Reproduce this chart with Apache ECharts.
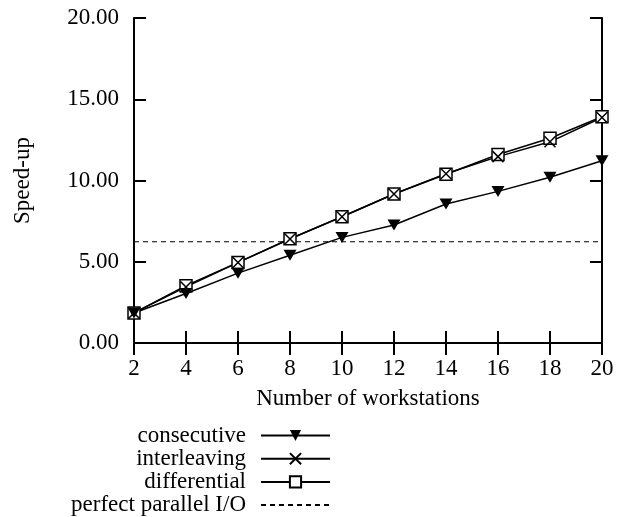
<!DOCTYPE html>
<html>
<head>
<meta charset="utf-8">
<script src="https://cdn.jsdelivr.net/npm/echarts@6/dist/echarts.min.js"></script>
<style>
html,body{margin:0;padding:0;background:#fff;}
#chart{width:627px;height:517px;}
</style>
</head>
<body>
<div id="chart"></div>
<script>
var workstations = [2, 4, 6, 8, 10, 12, 14, 16, 18, 20];
var consecutive = [1.85, 3.05, 4.3, 5.4, 6.5, 7.26, 8.55, 9.33, 10.2, 11.22];
var interleaving = [1.85, 3.45, 4.95, 6.4, 7.77, 9.17, 10.42, 11.47, 12.38, 13.88];
var differential = [1.85, 3.53, 4.96, 6.42, 7.77, 9.17, 10.38, 11.6, 12.6, 13.92];
var perfectParallel = [6.23, 6.23, 6.23, 6.23, 6.23, 6.23, 6.23, 6.23, 6.23, 6.23];
var yTickLabels = ['0.00', '5.00', '10.00', '15.00', '20.00'];
var xTickLabels = ['2', '4', '6', '8', '10', '12', '14', '16', '18', '20'];

function pairs(vals) {
  return workstations.map(function (x, i) { return [x, vals[i]]; });
}

var FONT = "'Liberation Serif', 'Times New Roman', serif";
var chart = echarts.init(document.getElementById('chart'), null, {renderer: 'canvas'});

var axisLine = {show: true, lineStyle: {color: '#000', width: 2}};
var tickIn = {show: true, inside: true, length: 12, lineStyle: {color: '#000', width: 2}};

var option = {
  backgroundColor: '#fff',
  animation: false,
  textStyle: {fontFamily: FONT, color: '#000'},
  grid: {left: 134, right: 25, top: 18, bottom: 174, containLabel: false},
  xAxis: [{
    type: 'value', position: 'bottom', min: 2, max: 20, interval: 2,
    name: 'Number of workstations', nameLocation: 'middle', nameGap: 44,
    nameTextStyle: {fontFamily: FONT, fontSize: 23, color: '#000'},
    axisLine: axisLine, axisTick: tickIn, splitLine: {show: false},
    axisLabel: {
      margin: 14, fontFamily: FONT, fontSize: 23, color: '#000',
      formatter: function (v) { var i = workstations.indexOf(v); return i >= 0 ? xTickLabels[i] : ''; }
    }
  }, {
    type: 'value', position: 'top', min: 2, max: 20, interval: 2,
    axisLine: axisLine, axisTick: tickIn, splitLine: {show: false}, axisLabel: {show: false}
  }],
  yAxis: [{
    type: 'value', position: 'left', min: 0, max: 20, interval: 5,
    name: 'Speed-up', nameLocation: 'middle', nameGap: 100, nameRotate: 90,
    nameTextStyle: {fontFamily: FONT, fontSize: 23, color: '#000'},
    axisLine: axisLine, axisTick: tickIn, splitLine: {show: false},
    axisLabel: {
      margin: 15, fontFamily: FONT, fontSize: 23, color: '#000',
      formatter: function (v) { return yTickLabels[Math.round(v / 5)]; }
    }
  }, {
    type: 'value', position: 'right', min: 0, max: 20, interval: 5,
    axisLine: axisLine, axisTick: tickIn, splitLine: {show: false}, axisLabel: {show: false}
  }],
  legend: {
    orient: 'vertical', right: 296, top: 424, height: 150, align: 'right', padding: 0,
    itemWidth: 69, itemHeight: 14, itemGap: 0.2,
    data: ['consecutive', 'interleaving', 'differential',
      {name: 'perfect parallel I/O', itemStyle: {color: 'transparent', borderColor: 'transparent', borderWidth: 0, opacity: 0}}],
    textStyle: {fontFamily: FONT, fontSize: 23, color: '#000', lineHeight: 20, padding: [0, 10, 0, 0]}
  },
  series: [{
    name: 'differential', type: 'line', xAxisIndex: 0, yAxisIndex: 0,
    data: pairs(differential),
    symbol: 'rect', symbolSize: 12,
    lineStyle: {color: '#000', width: 1.5},
    itemStyle: {color: '#fff', borderColor: '#000', borderWidth: 1.5}
  }, {
    name: 'interleaving', type: 'line', xAxisIndex: 0, yAxisIndex: 0,
    data: pairs(interleaving),
    symbol: 'path://M0,0L10,10M10,0L0,10', symbolSize: 11,
    lineStyle: {color: '#000', width: 1.5},
    itemStyle: {color: 'none', borderColor: '#000', borderWidth: 1.5}
  }, {
    name: 'consecutive', type: 'line', xAxisIndex: 0, yAxisIndex: 0,
    data: pairs(consecutive),
    symbol: 'triangle', symbolRotate: 180, symbolSize: [13, 11],
    lineStyle: {color: '#000', width: 1.5},
    itemStyle: {color: '#000', borderColor: '#000', borderWidth: 0}
  }, {
    name: 'perfect parallel I/O', type: 'line', xAxisIndex: 0, yAxisIndex: 0,
    data: pairs(perfectParallel),
    symbol: 'none', showSymbol: false,
    lineStyle: {color: '#000', width: 1.2, type: [5, 4]},
    itemStyle: {color: '#000'}
  }]
};
chart.setOption(option);
</script>
</body>
</html>
